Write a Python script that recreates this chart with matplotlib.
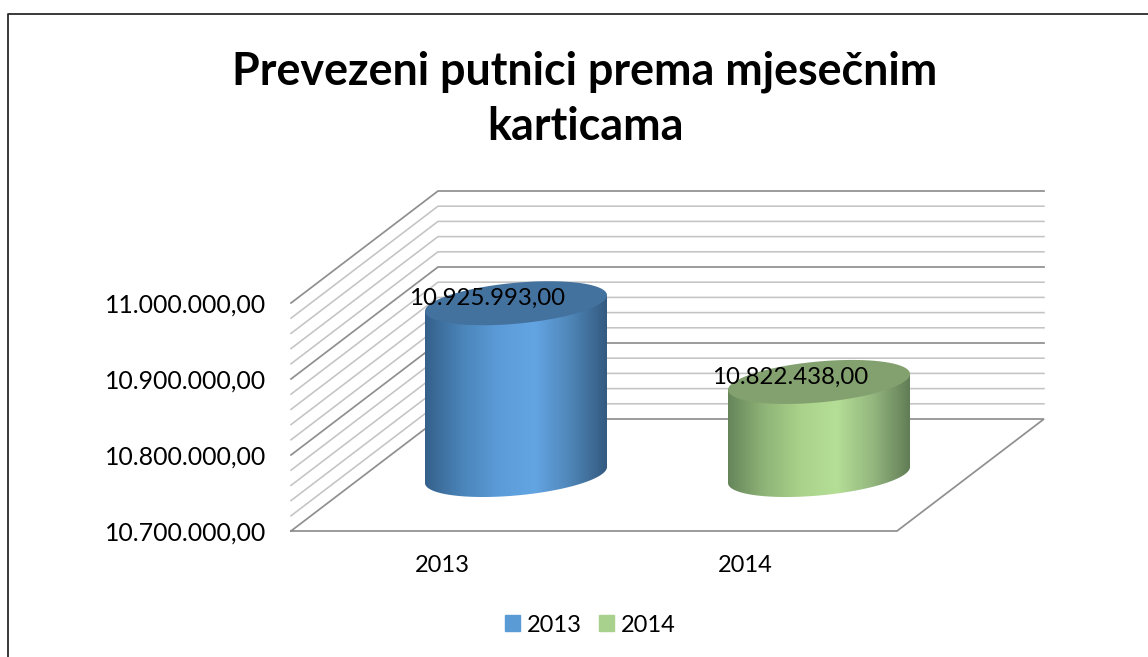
import numpy as np
from matplotlib import pyplot as plt
from matplotlib.colors import LinearSegmentedColormap
from matplotlib.patches import Patch, PathPatch, Polygon
from matplotlib.path import Path

years = ["2013", "2014"]
values = [10925993, 10822438]
value_labels = ["10.925.993,00", "10.822.438,00"]
y_major = [10700000, 10800000, 10900000, 11000000]
y_labels = ["10.700.000,00", "10.800.000,00", "10.900.000,00", "11.000.000,00"]
y_minor_step = 20000
title = "Prevezeni putnici prema mjesečnim\nkarticama"

W, H = 1148, 657
plt.rcParams["font.family"] = ["Lato", "DejaVu Sans"]

# front plane of the 3d box in pixels
front_l, front_r, front_top, front_bottom = 291, 897, 303, 531
# shift from the front plane to the back wall, in data units
depth_x = 147 / 303
depth_y = 112 / 228 * 300000
# cylinder shape
radius_x = 91 / 303
radius_y = 20.5 / 228 * 300000
shear_y = 8 / 228 * 300000

body_colors = [
    ["#35608c", "#4a84b8", "#5b9bd8", "#63a5e3", "#4f86b8", "#345a80"],
    ["#66865a", "#8fb478", "#aad28a", "#b5de96", "#93b67e", "#627d56"],
]
top_colors = ["#44729f", "#83a06f"]
legend_colors = ["#5b9bd5", "#a9d18e"]


def ellipse(x, v):
    t = np.linspace(0, 2 * np.pi, 181)
    return x + radius_x * np.cos(t), v + shear_y * np.cos(t) + radius_y * np.sin(t)


def draw_cylinder(ax, x, value, colors, top_color):
    base = 10700000 + depth_y / 2
    top = value + depth_y / 2
    cx = x + depth_x / 2

    # the body: lower half of the base ellipse swept up to the top ellipse
    xs, ys = ellipse(cx, base)
    xt, yt = ellipse(cx, top)
    px = np.concatenate([xs[90:], [cx + radius_x, cx - radius_x]])
    py = np.concatenate([ys[90:], [top + shear_y, top - shear_y]])
    body = Polygon(np.column_stack([px, py]), closed=True, fc="none", ec="none", transform=ax.transData)
    ax.add_patch(body)

    cmap = LinearSegmentedColormap.from_list("body", colors)
    grad = np.linspace(0, 1, 256).reshape(1, -1)
    img = ax.imshow(grad, cmap=cmap, aspect="auto", zorder=3,
                    extent=[cx - radius_x, cx + radius_x, 10600000, 11100000])
    img.set_clip_path(body)
    img.set_clip_box(ax.figure.bbox)  # the cylinders stand behind the front plane

    ax.add_patch(PathPatch(Path(np.column_stack([xt, yt])), fc=top_color, ec="none", zorder=4, clip_on=False))


def main():
    fig = plt.figure(figsize=(W / 100, H / 100), dpi=100)
    # only the top and left sides of the frame are inside the picture
    fig.add_artist(plt.Line2D([7.5 / W, 7.5 / W, 1], [0, 1 - 14 / H, 1 - 14 / H], transform=fig.transFigure,
                              color="#2a2a2a", lw=1.3))
    ax = fig.add_axes([front_l / W, 1 - front_bottom / H, (front_r - front_l) / W, (front_bottom - front_top) / H])

    # walls: every gridline runs along the left wall and then the back wall
    ticks = np.arange(y_major[0], y_major[-1] + 1, y_minor_step)
    for v in ticks:
        major = v in y_major
        color = "#8f8f8f" if major else "#c4c4c4"
        lw = 1.25 if major else 1.15
        if v == y_major[0]:
            continue
        ax.plot([0, depth_x, 2 + depth_x], [v, v + depth_y, v + depth_y], color=color, lw=lw,
                clip_on=False, zorder=1, solid_joinstyle="miter")

    # floor
    floor_x = [0, 2, 2 + depth_x, depth_x, 0]
    floor_y = [y_major[0], y_major[0], y_major[0] + depth_y, y_major[0] + depth_y, y_major[0]]
    ax.plot(floor_x, floor_y, color="#8f8f8f", lw=1.25, clip_on=False, zorder=1, solid_joinstyle="miter")

    for i, (value, label) in enumerate(zip(values, value_labels)):
        draw_cylinder(ax, i + 0.5, value, body_colors[i], top_colors[i])
        ax.text(i + 0.5 + depth_x / 2 - 0.096, value + depth_y / 2 + 5900, label, ha="center", va="center",
                fontsize=17.3, color="black", zorder=5)

    ax.set_xlim(0, 2)
    ax.set_ylim(y_major[0], y_major[-1])
    ax.patch.set_visible(False)
    for spine in ax.spines.values():
        spine.set_visible(False)
    ax.set_xticks([0.5, 1.5], years)
    ax.set_yticks(y_major, y_labels)
    ax.tick_params(axis="both", length=0, labelcolor="black")
    ax.tick_params(axis="y", pad=18, labelsize=17.9)
    ax.tick_params(axis="x", pad=17, labelsize=17)

    fig.text(585 / W, 1 - 99 / H, title, ha="center", va="center", fontsize=32.35, fontweight="bold",
             linespacing=1.39, color="black")

    handles = [Patch(color=c, label=y) for c, y in zip(legend_colors, years)]
    fig.legend(handles=handles, loc="center", bbox_to_anchor=(590 / W, 1 - 625 / H), ncol=2, frameon=False,
               fontsize=17, handlelength=0.63, handleheight=0.63, handletextpad=0.3, columnspacing=0.72)

    fig.savefig("out.png", dpi=100)


if __name__ == "__main__":
    main()
